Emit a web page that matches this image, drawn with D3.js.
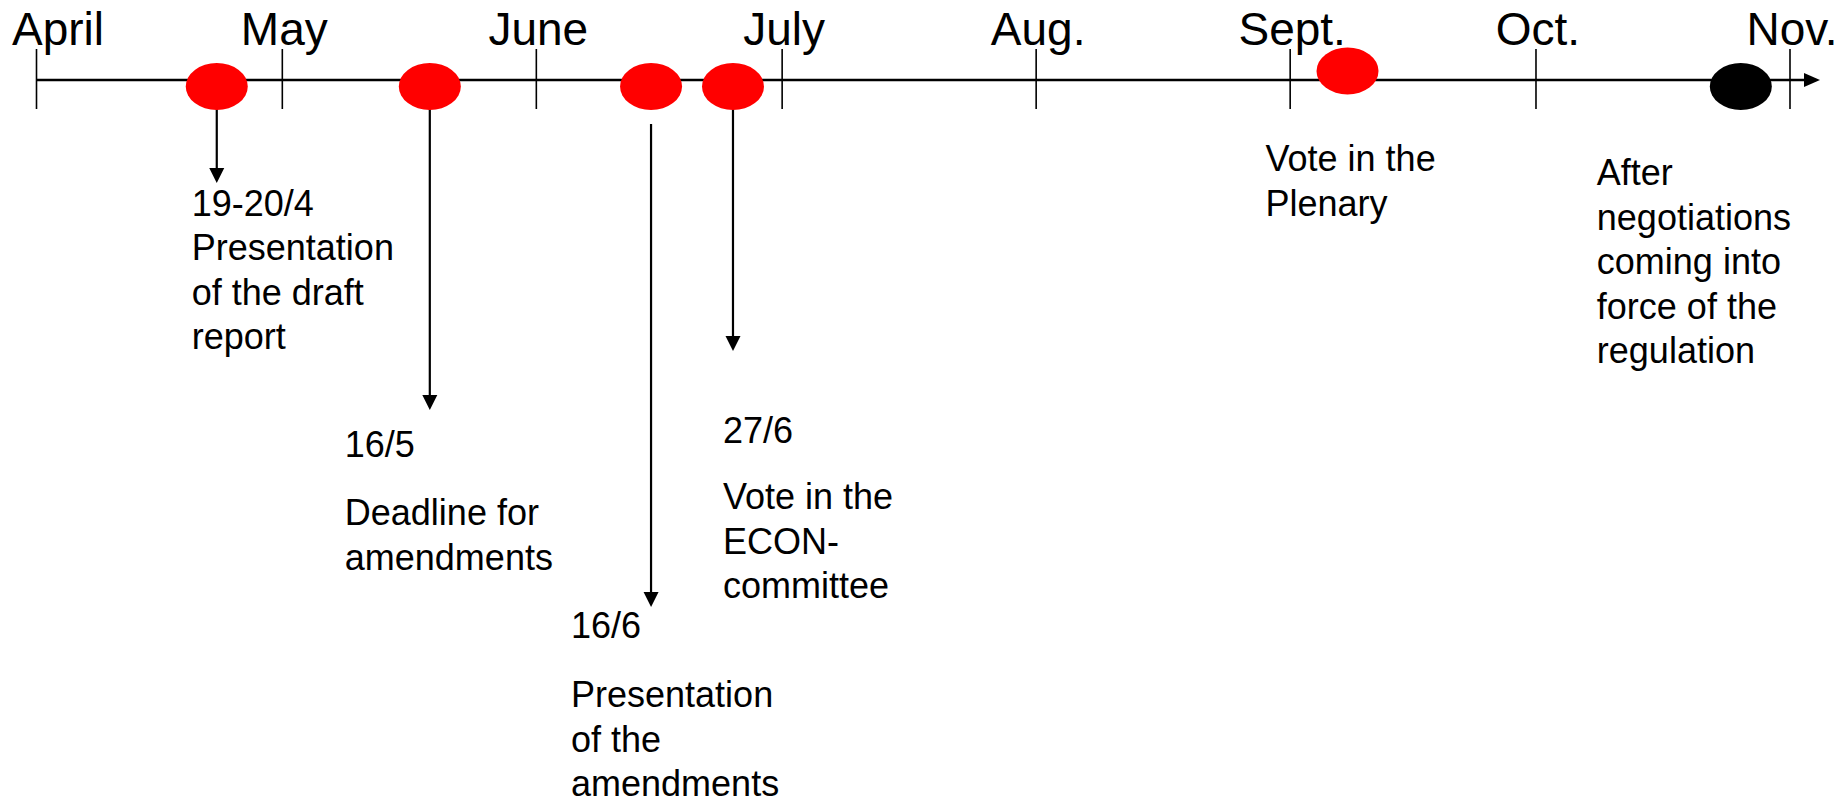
<!DOCTYPE html>
<html>
<head>
<meta charset="utf-8">
<script src="https://cdn.jsdelivr.net/npm/d3@7"></script>
<style>
  html, body { margin: 0; padding: 0; background: #fff; }
  svg { display: block; }
  text { font-family: "Liberation Sans", Arial, sans-serif; fill: #000; }
</style>
</head>
<body>
<svg id="chart" width="1846" height="800"></svg>
<script>
// ---- data ----
const monthLabels = ["April", "May", "June", "July", "Aug.", "Sept.", "Oct.", "Nov."];
const monthStarts = ["2011-04-01", "2011-05-01", "2011-06-01", "2011-07-01", "2011-08-01", "2011-09-01", "2011-10-01", "2011-11-01"];
const eventDates = ["2011-04-23", "2011-05-19", "2011-06-15", "2011-06-25", "2011-09-08", "2011-10-26"];
const eventKinds = ["step", "step", "step", "step", "step", "final"];
const eventDateLabels = ["19-20/4", "16/5", "16/6", "27/6", "", ""];
const eventDescriptions = [
  ["Presentation", "of the draft", "report"],
  ["Deadline for", "amendments"],
  ["Presentation", "of the", "amendments"],
  ["Vote in the", "ECON-", "committee"],
  ["Vote in the", "Plenary"],
  ["After", "negotiations", "coming into", "force of the", "regulation"]
];

// ---- layout (not data) ----
const axisY = 80;
const lineH = 44.5;
const annot = [
  { dotDy: 6.5, arrowFrom: 109, arrowTo: 183, textDx: -25, dateY: 216, descY: 260 },
  { dotDy: 6.5, arrowFrom: 109, arrowTo: 410, textDx: -85, dateY: 457, descY: 525 },
  { dotDy: 6.5, arrowFrom: 124, arrowTo: 607, textDx: -80, dateY: 638, descY: 707 },
  { dotDy: 6.5, arrowFrom: 109, arrowTo: 351, textDx: -10, dateY: 443, descY: 509 },
  { dotDy: -9, arrowFrom: null, arrowTo: null, textDx: -82, dateY: null, descY: 171 },
  { dotDy: 6.5, arrowFrom: null, arrowTo: null, textDx: -144, dateY: null, descY: 185 }
];
const kindColor = { step: "#ff0000", final: "#000000" };

const parse = d3.timeParse("%Y-%m-%d");
const svg = d3.select("#chart");

const x = d3.scaleTime()
  .domain([parse(monthStarts[0]), parse(monthStarts[monthStarts.length - 1])])
  .range([36.5, 1790]);

// main axis line + arrow
svg.append("line")
  .attr("x1", x.range()[0]).attr("x2", x.range()[1] + 16)
  .attr("y1", axisY).attr("y2", axisY)
  .attr("stroke", "#000").attr("stroke-width", 2.6);
svg.append("path")
  .attr("d", `M${x.range()[1] + 14},${axisY - 7} L${x.range()[1] + 30},${axisY} L${x.range()[1] + 14},${axisY + 7} Z`)
  .attr("fill", "#000");

// month ticks
const months = monthStarts.map((d, i) => ({ date: parse(d), label: monthLabels[i] }));
svg.selectAll("line.tick").data(months).enter().append("line")
  .attr("class", "tick")
  .attr("x1", d => x(d.date)).attr("x2", d => x(d.date))
  .attr("y1", 49).attr("y2", 109)
  .attr("stroke", "#000").attr("stroke-width", 1.6);

const mLabels = svg.selectAll("text.month").data(months).enter().append("text")
  .attr("class", "month")
  .attr("y", 45)
  .attr("font-size", 46)
  .text(d => d.label);
mLabels.each(function(d) {
  const w = this.getComputedTextLength();
  const cx = Math.max(x(d.date) + 2, 12 + w / 2);
  d3.select(this).attr("x", cx - w / 2);
});

// events
const events = eventDates.map((d, i) => ({
  date: parse(d), kind: eventKinds[i], dateLabel: eventDateLabels[i],
  desc: eventDescriptions[i], a: annot[i]
}));

// arrows
const withArrow = events.filter(e => e.a.arrowFrom !== null);
svg.selectAll("line.arrow").data(withArrow).enter().append("line")
  .attr("x1", d => x(d.date)).attr("x2", d => x(d.date))
  .attr("y1", d => d.a.arrowFrom).attr("y2", d => d.a.arrowTo - 12)
  .attr("stroke", "#000").attr("stroke-width", 2.2);
svg.selectAll("path.head").data(withArrow).enter().append("path")
  .attr("d", d => {
    const cx = x(d.date), t = d.a.arrowTo;
    return `M${cx - 7.5},${t - 15} L${cx + 7.5},${t - 15} L${cx},${t} Z`;
  })
  .attr("fill", "#000");

// dots
svg.selectAll("ellipse.dot").data(events).enter().append("ellipse")
  .attr("cx", d => x(d.date))
  .attr("cy", d => axisY + d.a.dotDy)
  .attr("rx", 31)
  .attr("ry", 23.5)
  .attr("fill", d => kindColor[d.kind]);

// texts
const g = svg.selectAll("g.ann").data(events).enter().append("g");
g.each(function(d) {
  const sel = d3.select(this);
  const tx = x(d.date) + d.a.textDx;
  if (d.dateLabel) {
    sel.append("text").attr("x", tx).attr("y", d.a.dateY)
      .attr("font-size", 36).text(d.dateLabel);
  }
  d.desc.forEach((line, j) => {
    sel.append("text").attr("x", tx).attr("y", d.a.descY + j * lineH)
      .attr("font-size", 36).text(line);
  });
});
</script>
</body>
</html>
